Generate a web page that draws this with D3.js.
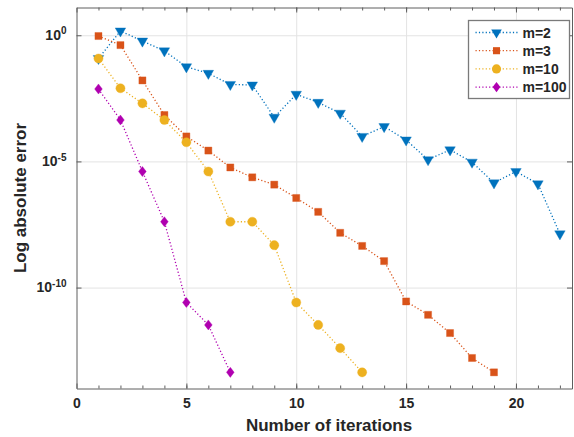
<!DOCTYPE html>
<html>
<head>
<meta charset="utf-8">
<script src="https://cdn.jsdelivr.net/npm/d3@7"></script>
<style>
body { margin: 0; background: #fff; }
text { font-family: "Liberation Sans", Arial, Helvetica, sans-serif; font-weight: bold; fill: #262626; }
</style>
</head>
<body>
<div id="chart"></div>
<script>
// data
const iterations = [1, 2, 3, 4, 5, 6, 7, 8, 9, 10, 11, 12, 13, 14, 15, 16, 17, 18, 19, 20, 21, 22];
const errM2 = [1.20e-1, 1.48, 5.89e-1, 2.40e-1, 5.62e-2, 3.09e-2, 1.12e-2, 1.07e-2, 5.62e-4, 4.57e-3, 2.19e-3,
    8.13e-4, 9.77e-5, 2.40e-4, 7.08e-5, 1.17e-5, 2.88e-5, 9.33e-6, 1.41e-6, 3.98e-6, 1.29e-6, 1.35e-8];
const errM3 = [9.33e-1, 4.07e-1, 1.62e-2, 6.92e-4, 9.77e-5, 2.69e-5, 5.75e-6, 2.34e-6, 1.20e-6, 3.55e-7,
    1.00e-7, 1.48e-8, 4.47e-9, 1.12e-9, 2.82e-11, 8.32e-12, 1.58e-12, 1.62e-13, 4.37e-14];
const errM10 = [1.20e-1, 7.94e-3, 2.00e-3, 4.37e-4, 5.75e-5, 3.98e-6, 4.07e-8, 4.07e-8, 4.79e-9, 2.57e-11,
    3.31e-12, 3.98e-13, 4.37e-14];
const errM100 = [7.41e-3, 4.37e-4, 3.98e-6, 4.07e-8, 2.57e-11, 3.31e-12, 4.37e-14];

const seriesNames = ["m=2", "m=3", "m=10", "m=100"];
const seriesErrors = [errM2, errM3, errM10, errM100];
const seriesColors = ["#0072BD", "#D95319", "#EDB120", "#B000B0"];

const xTicks = [0, 5, 10, 15, 20];
const xMinorTicks = iterations;
const yTicks = [1e0, 1e-5, 1e-10];

const width = 574, height = 437;
const margin = {left: 76.5, right: 2, top: 7.5, bottom: 48.5};
const w = width - margin.left - margin.right;
const h = height - margin.top - margin.bottom;

// diamond a bit wider than d3's own
const diamond = {
    draw(context, size) {
        const a = Math.sqrt(size) * 0.55, b = Math.sqrt(size) * 0.72;
        context.moveTo(0, -b);
        context.lineTo(a, 0);
        context.lineTo(0, b);
        context.lineTo(-a, 0);
        context.closePath();
    }
};
const markers = [
    {type: d3.symbolTriangle, size: 48, rotate: 180},
    {type: d3.symbolSquare, size: 50, rotate: 0},
    {type: d3.symbolCircle, size: 66, rotate: 0},
    {type: diamond, size: 49, rotate: 0}
];

const series = seriesNames.map((name, i) => ({
    name: name,
    color: seriesColors[i],
    marker: markers[i],
    values: seriesErrors[i].map((v, j) => ({x: iterations[j], y: v}))
}));

const svg = d3.select("#chart")
    .append("svg")
    .attr("width", width)
    .attr("height", height);

const g = svg.append("g")
    .attr("transform", `translate(${margin.left},${margin.top})`);

let xScale = d3.scaleLinear()
    .domain([0, 22.55])
    .range([0, w]);

let yScale = d3.scaleLog()
    .domain([1e-14, Math.pow(10, 1.1)])
    .range([h, 0]);

// grid
g.append("g")
    .attr("class", "grid")
    .attr("transform", `translate(0,${h})`)
    .call(d3.axisBottom(xScale).tickValues(xTicks.slice(1)).tickSize(-h).tickFormat(""))
    .call(s => s.select(".domain").remove())
    .call(s => s.selectAll("line").attr("stroke", "#e3e3e3"));
g.append("g")
    .attr("class", "grid")
    .call(d3.axisLeft(yScale).tickValues(yTicks).tickSize(-w).tickFormat(""))
    .call(s => s.select(".domain").remove())
    .call(s => s.selectAll("line").attr("stroke", "#e3e3e3"));

// series
let line = d3.line()
    .x(function (d) { return xScale(d.x); })
    .y(function (d) { return yScale(d.y); });

series.forEach(function (s) {
    g.append("path")
        .datum(s.values)
        .attr("fill", "none")
        .attr("stroke", s.color)
        .attr("stroke-width", 1.3)
        .attr("stroke-dasharray", "1.2,2.2")
        .attr("d", line);
});
series.forEach(function (s) {
    g.selectAll(null)
        .data(s.values)
        .enter()
        .append("path")
        .attr("d", d3.symbol().type(s.marker.type).size(s.marker.size))
        .attr("fill", s.color)
        .attr("stroke", s.color)
        .attr("stroke-opacity", 0.35)
        .attr("stroke-width", 1)
        .attr("transform", d => `translate(${xScale(d.x)},${yScale(d.y)}) rotate(${s.marker.rotate})`);
});

// axes (ticks point inward like matlab)
const axisColor = "#5e5e5e";
const xAxis = g.append("g")
    .attr("transform", `translate(0,${h})`)
    .call(d3.axisBottom(xScale).tickValues(xTicks).tickSizeInner(-5).tickSizeOuter(0).tickPadding(10));
xAxis.selectAll("text").attr("font-size", 14).style("fill", "#262626");
g.append("g")
    .attr("transform", `translate(0,${h})`)
    .call(d3.axisBottom(xScale).tickValues(xMinorTicks).tickSize(-3).tickFormat(""))
    .call(s => s.select(".domain").remove());
g.append("g")
    .call(d3.axisTop(xScale).tickValues(xTicks).tickSizeInner(-5).tickSizeOuter(0).tickFormat(""));
g.append("g")
    .call(d3.axisTop(xScale).tickValues(xMinorTicks).tickSize(-3).tickFormat(""))
    .call(s => s.select(".domain").remove());

const yAxis = g.append("g")
    .call(d3.axisLeft(yScale).tickValues(yTicks).tickSizeInner(-5).tickSizeOuter(0).tickPadding(10).tickFormat(""));
yAxis.selectAll(".tick").append("text")
    .attr("x", -10)
    .attr("dy", "0.3em")
    .attr("text-anchor", "end")
    .attr("font-size", 14)
    .each(function (d) {
        const t = d3.select(this);
        t.append("tspan").text("10");
        t.append("tspan")
            .attr("dy", "-0.55em")
            .attr("font-size", 10)
            .text(Math.round(Math.log10(d)));
    });
g.append("g")
    .attr("transform", `translate(${w},0)`)
    .call(d3.axisRight(yScale).tickValues(yTicks).tickSizeInner(-5).tickSizeOuter(0).tickFormat(""));

g.selectAll(".domain").attr("stroke", axisColor);
g.selectAll(".tick line").filter(function () { return !this.closest(".grid"); }).attr("stroke", axisColor);

// labels
svg.append("text")
    .attr("x", 329)
    .attr("y", 431)
    .attr("text-anchor", "middle")
    .attr("font-size", 17)
    .text("Number of iterations");
svg.append("text")
    .attr("transform", `translate(26,${margin.top + h / 2}) rotate(-90)`)
    .attr("text-anchor", "middle")
    .attr("font-size", 17)
    .text("Log absolute error");

// legend
const legend = svg.append("g").attr("transform", "translate(468.5,20.5)");
legend.append("rect")
    .attr("width", 101)
    .attr("height", 78)
    .attr("fill", "#fff")
    .attr("stroke", "#7a7a7a")
    .attr("stroke-width", 1.3);
series.forEach(function (s, i) {
    const row = legend.append("g").attr("transform", `translate(0,${12 + i * 18.2})`);
    row.append("line")
        .attr("x1", 7).attr("x2", 50)
        .attr("stroke", s.color)
        .attr("stroke-width", 1.3)
        .attr("stroke-dasharray", "1.2,2.2");
    row.append("path")
        .attr("d", d3.symbol().type(s.marker.type).size(s.marker.size))
        .attr("fill", s.color)
        .attr("transform", `translate(28,0) rotate(${s.marker.rotate})`);
    row.append("text")
        .attr("x", 54)
        .attr("dy", "0.36em")
        .attr("font-size", 14)
        .text(s.name);
});
</script>
</body>
</html>
